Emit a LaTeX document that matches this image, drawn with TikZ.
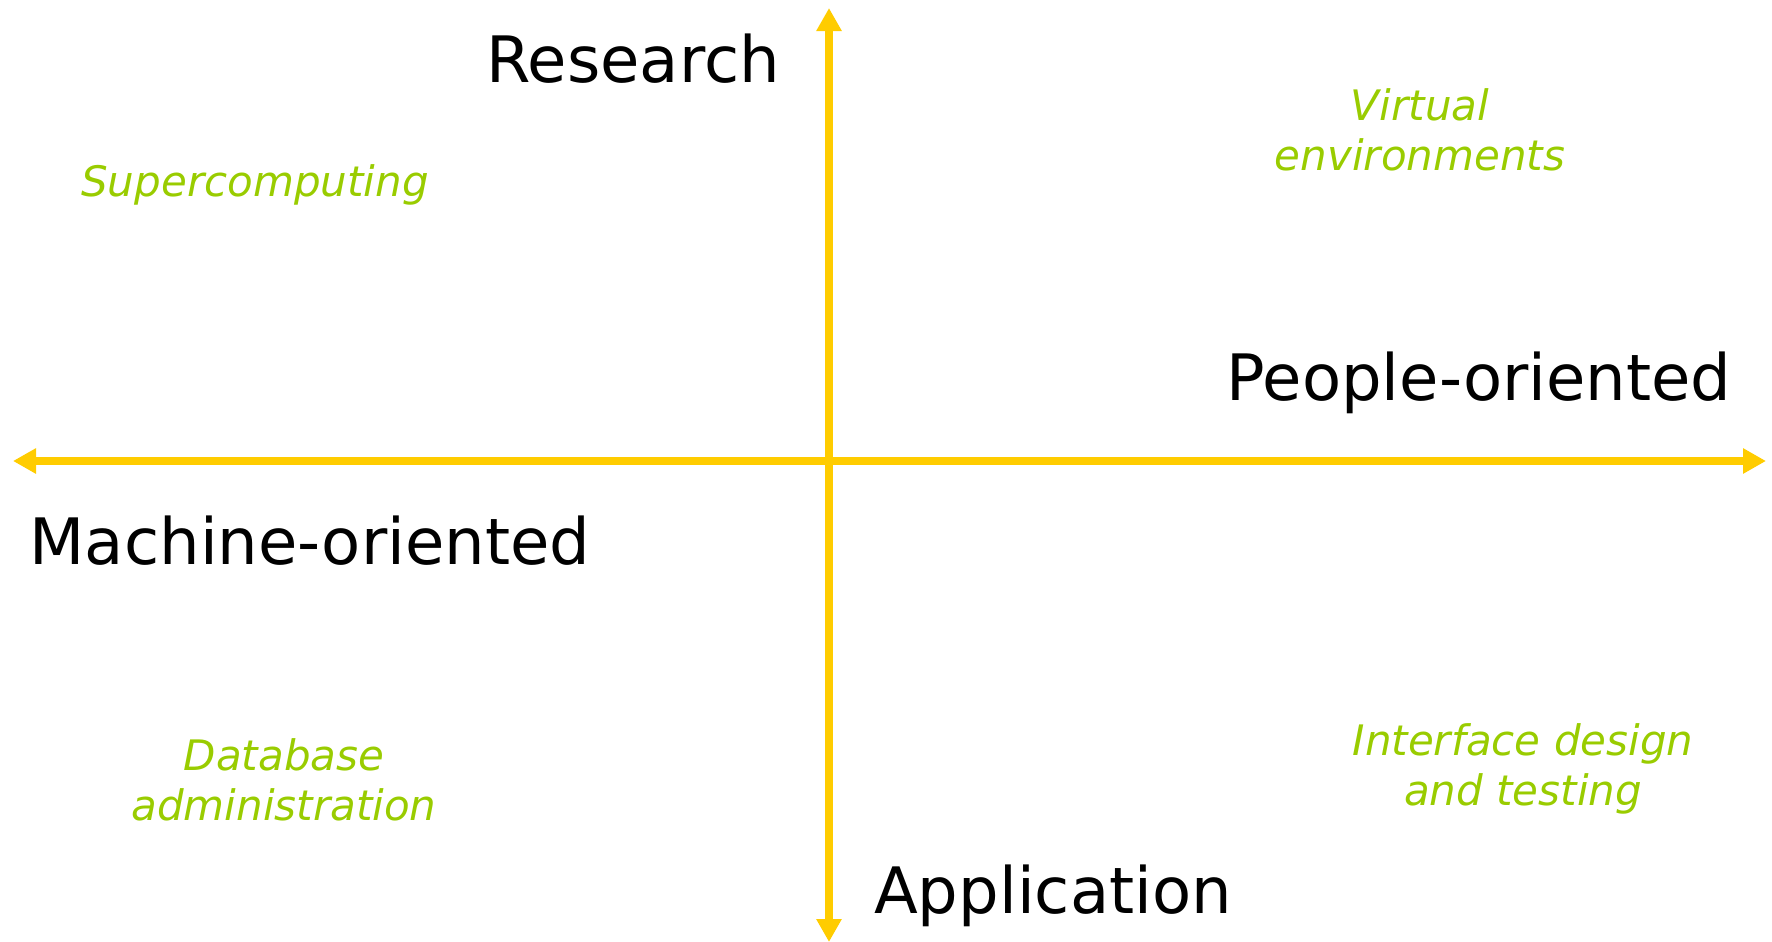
\documentclass[tikz,border=0pt]{standalone}
\usepackage{fontspec}
\setmainfont{DejaVu Sans}
\usetikzlibrary{arrows.meta}
\definecolor{axisyellow}{HTML}{FFCC00}
\definecolor{fieldgreen}{HTML}{99CC00}

\begin{document}
\begin{tikzpicture}[x=0.5pt,y=-0.5pt,
    axis/.style={line width=4pt,color=axisyellow,{Triangle[length=11.5pt,width=12pt]}-{Triangle[length=11.5pt,width=12pt]}},
    main/.style={inner sep=0pt,anchor=base,font=\fontsize{32pt}{38pt}\selectfont},
    field/.style={inner sep=0pt,anchor=base,align=center,text=fieldgreen,font=\fontsize{21pt}{25pt}\selectfont\itshape}]
      \useasboundingbox (0,0) rectangle (1772,942);
      \coordinate (top) at (829,8);
      \coordinate (bottom) at (829,942);
      \coordinate (left) at (13,461);
      \coordinate (right) at (1766,461);
      \draw[axis] (left) -- (right);
      \draw[axis] (bottom) -- (top);
      \node[main] (research) at (633,82) {Research};
      \node[main] (application) at (1053,913) {Application};
      \node[main] (people) at (1479,400) {People-oriented};
      \node[main] (machine) at (310,564) {Machine-oriented};
      % two-line labels sit on the baseline of their last line
      \node[field] (super) at (255,196) {Supercomputing};
      \node[field] (virtual) at (1420,170) {Virtual\\environments};
      \node[field] (database) at (284,820) {Database\\administration};
      \node[field] (interface) at (1523,805) {Interface design\\and testing};
    \end{tikzpicture}
\end{document}
